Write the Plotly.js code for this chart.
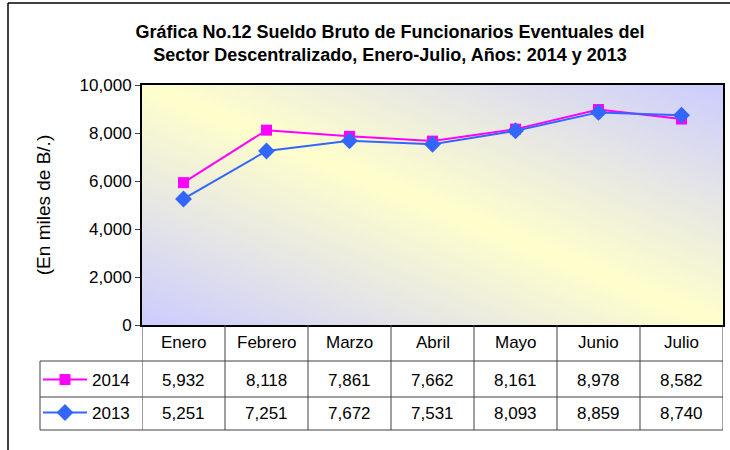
<!DOCTYPE html>
<html>
<head>
<meta charset="utf-8">
<script src="https://cdn.plot.ly/plotly-3.0.1.min.js"></script>
<style>html,body{margin:0;padding:0;background:#fff;}#chart{width:730px;height:450px;}</style>
</head>
<body>
<div id="chart"></div>
<script>
const months = ["Enero","Febrero","Marzo","Abril","Mayo","Junio","Julio"];
const series2014 = [5932, 8118, 7861, 7662, 8161, 8978, 8582];
const series2013 = [5251, 7251, 7672, 7531, 8093, 8859, 8740];
const seriesNames = ["2014", "2013"];
const yTicks = [0, 2000, 4000, 6000, 8000, 10000];

// gradient background image (style only)
function gradientURL() {
  const N = 300;
  const c = document.createElement('canvas');
  c.width = N; c.height = N;
  const ctx = c.getContext('2d');
  const g = ctx.createLinearGradient(0, N, N, 0);
  g.addColorStop(0, '#CCCCFF');
  g.addColorStop(0.25, '#E6E6E6');
  g.addColorStop(0.5, '#FFFFCC');
  g.addColorStop(0.75, '#E6E6E6');
  g.addColorStop(1, '#CCCCFF');
  ctx.fillStyle = g;
  ctx.fillRect(0, 0, N, N);
  return c.toDataURL();
}

const FONT = "Liberation Sans, Arial, sans-serif";
const fmt = v => v.toLocaleString('en-US');

// pixel helpers for table layout (plot area 142..723 x 85..325)
const L = 142, R = 7, T = 85, B = 125, W = 730, H = 450;
const pw = W - L - R, ph = H - T - B;
const px = x => (x - L) / pw;
const py = y => (H - B - y) / ph;

const traces = [
  {x: months, y: series2014, name: seriesNames[0], type: 'scatter', mode: 'lines+markers',
   line: {color: '#FF00FF', width: 2}, marker: {symbol: 'square', size: 11, color: '#FF00FF'},
   legend: 'legend'},
  {x: months, y: series2013, name: seriesNames[1], type: 'scatter', mode: 'lines+markers',
   line: {color: '#3366FF', width: 2}, marker: {symbol: 'diamond', size: 13, color: '#3366FF'},
   legend: 'legend2'}
];

const lineC = '#404040';
const shapes = [];
// horizontal table lines
[361, 397, 430].forEach(y => shapes.push({type: 'line', xref: 'paper', yref: 'paper',
  x0: px(40), x1: 1, y0: py(y), y1: py(y), line: {color: lineC, width: 1}}));
// vertical lines at category boundaries
for (let i = 0; i <= months.length; i++) {
  shapes.push({type: 'line', xref: 'x', yref: 'paper', x0: i - 0.5, x1: i - 0.5,
    y0: 0, y1: py(430), line: {color: lineC, width: 1}});
}
// legend column left edge
shapes.push({type: 'line', xref: 'paper', yref: 'paper', x0: px(40), x1: px(40),
  y0: py(361), y1: py(430), line: {color: lineC, width: 1}});
// outer chart border (left + top)
shapes.push({type: 'line', xref: 'paper', yref: 'paper', x0: px(8), x1: px(8),
  y0: py(3), y1: py(470), line: {color: '#000', width: 1.5}});
shapes.push({type: 'line', xref: 'paper', yref: 'paper', x0: px(8), x1: px(740),
  y0: py(3), y1: py(3), line: {color: '#000', width: 1.5}});

const annotations = [];
months.forEach((m, i) => {
  annotations.push({x: i, y: py(342), xref: 'x', yref: 'paper', text: m, showarrow: false,
    font: {family: FONT, size: 17, color: '#000'}, yanchor: 'middle'});
  annotations.push({x: i, y: py(380), xref: 'x', yref: 'paper', text: fmt(series2014[i]), showarrow: false,
    font: {family: FONT, size: 17, color: '#000'}, yanchor: 'middle'});
  annotations.push({x: i, y: py(413), xref: 'x', yref: 'paper', text: fmt(series2013[i]), showarrow: false,
    font: {family: FONT, size: 17, color: '#000'}, yanchor: 'middle'});
});

const layout = {
  width: W, height: H,
  margin: {l: L, r: R, t: T, b: B},
  paper_bgcolor: '#fff',
  plot_bgcolor: 'rgba(0,0,0,0)',
  font: {family: FONT, size: 17, color: '#000'},
  title: {text: '<b>Gráfica No.12 Sueldo Bruto de Funcionarios Eventuales del<br>Sector Descentralizado, Enero-Julio, Años: 2014 y 2013</b>',
    font: {family: FONT, size: 18, color: '#000'}, x: 390 / W, xanchor: 'center',
    y: 1 - 38 / H, yanchor: 'top', yref: 'container'},
  xaxis: {type: 'category', range: [-0.5, months.length - 0.5], showticklabels: false,
    showgrid: false, zeroline: false, showline: true, linecolor: '#000', linewidth: 2, mirror: true,
    ticks: '', fixedrange: true},
  yaxis: {range: [0, 10000], tickvals: yTicks, tickformat: ',d', showgrid: false, zeroline: false,
    showline: true, linecolor: '#000', linewidth: 2, mirror: true,
    ticks: 'outside', ticklen: 5, tickcolor: '#404040', tickfont: {family: FONT, size: 17},
    title: {text: '(En miles de B/.)', font: {family: FONT, size: 19}, standoff: 24},
    automargin: false, fixedrange: true},
  images: [{source: gradientURL(), xref: 'paper', yref: 'paper', x: 0, y: 1, sizex: 1, sizey: 1,
    sizing: 'stretch', layer: 'below', xanchor: 'left', yanchor: 'top'}],
  shapes: shapes,
  annotations: annotations,
  legend: {x: px(38), y: py(380), xanchor: 'left', yanchor: 'middle', bgcolor: 'rgba(0,0,0,0)',
    borderwidth: 0, font: {family: FONT, size: 17}, itemwidth: 44},
  legend2: {x: px(38), y: py(413), xanchor: 'left', yanchor: 'middle', bgcolor: 'rgba(0,0,0,0)',
    borderwidth: 0, font: {family: FONT, size: 17}, itemwidth: 44},
  showlegend: true
};

Plotly.newPlot('chart', traces, layout, {displayModeBar: false, staticPlot: true});
</script>
</body>
</html>
